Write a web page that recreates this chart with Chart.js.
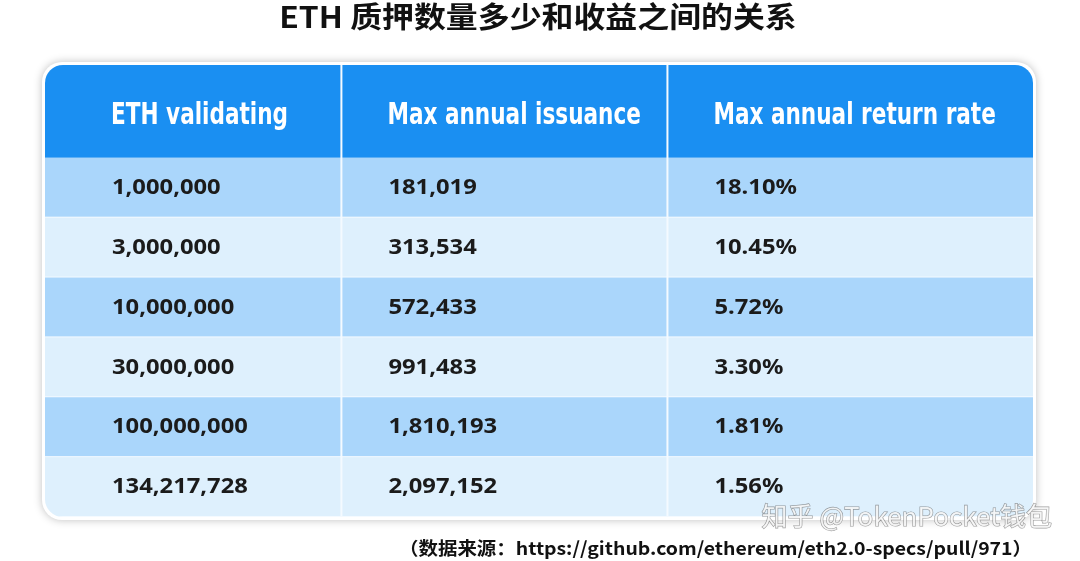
<!DOCTYPE html>
<html><head><meta charset="utf-8">
<script src="https://cdn.jsdelivr.net/npm/chart.js@4/dist/chart.umd.min.js"></script>
<style>
html,body{margin:0;background:#fff;}
#wrap{position:relative;width:1080px;height:561px;}
</style></head>
<body><div id="wrap"><canvas id="c" width="1080" height="561"></canvas></div>
<script>
const title = 'ETH 质押数量多少和收益之间的关系';
const headers = ['ETH validating', 'Max annual issuance', 'Max annual return rate'];
const validating = ['1,000,000', '3,000,000', '10,000,000', '30,000,000', '100,000,000', '134,217,728'];
const issuance = ['181,019', '313,534', '572,433', '991,483', '1,810,193', '2,097,152'];
const returnRate = ['18.10%', '10.45%', '5.72%', '3.30%', '1.81%', '1.56%'];
const source = '（数据来源：https://github.com/ethereum/eth2.0-specs/pull/971）';
const watermark = '知乎 @TokenPocket钱包';

// column edges in x units, header height in y units
const colEdges = [0, 0.9, 1.89, 3];
const headH = 1.55;

const cols = [validating, issuance, returnRate];

function rr(ctx, x, y, w, h, r) {
  ctx.beginPath();
  ctx.moveTo(x + r, y); ctx.arcTo(x + w, y, x + w, y + h, r);
  ctx.arcTo(x + w, y + h, x, y + h, r); ctx.arcTo(x, y + h, x, y, r);
  ctx.arcTo(x, y, x + w, y, r); ctx.closePath();
}

function wideText(ctx, s, px, py, sx) {
  ctx.save(); ctx.translate(px, py); ctx.scale(sx, 1); ctx.fillText(s, 0, 0); ctx.restore();
}

const tablePlugin = {
  id: 'table',
  beforeDatasetsDraw(chart) {
    const { ctx, scales: { x, y } } = chart;
    const L = x.getPixelForValue(0), R = x.getPixelForValue(3);
    const T = y.getPixelForValue(0), B = y.getPixelForValue(headH + validating.length);
    ctx.save();
    // title
    ctx.fillStyle = '#111';
    ctx.font = 'bold 29px "Noto Sans CJK SC", sans-serif';
    ctx.textAlign = 'center'; ctx.textBaseline = 'middle';
    wideText(ctx, title, 538, 17, 1.1);
    ctx.textAlign = 'left';
    // card
    ctx.shadowColor = 'rgba(0,0,0,0.25)'; ctx.shadowBlur = 8;
    rr(ctx, L - 3, T - 3, R - L + 6, B - T + 6, 20);
    ctx.fillStyle = '#fff'; ctx.fill();
    ctx.shadowBlur = 0;
    rr(ctx, L, T, R - L, B - T, 18); ctx.clip();
    // header
    ctx.fillStyle = '#1a8ff2';
    ctx.fillRect(L, T, R - L, y.getPixelForValue(headH) - T);
    validating.forEach((_, i) => {
      const y0 = y.getPixelForValue(headH + i), y1 = y.getPixelForValue(headH + i + 1);
      ctx.fillStyle = i % 2 === 0 ? '#aad6fb' : '#def0fd';
      ctx.fillRect(L, y0, R - L, y1 - y0);
      ctx.fillStyle = '#f4faff';
      ctx.fillRect(L, y1 - 1, R - L, 2);
    });
    // column dividers
    ctx.fillStyle = '#f4faff';
    [1, 2].forEach(k => { const px = x.getPixelForValue(colEdges[k]); ctx.fillRect(px - 1, T, 2, B - T); });
    // text
    headers.forEach((h, k) => {
      ctx.fillStyle = '#fff';
      ctx.font = 'bold 30px "DejaVu Sans Condensed", sans-serif';
      const px = x.getPixelForValue(colEdges[k]) + (k === 0 ? 66 : 46);
      wideText(ctx, h, px, y.getPixelForValue(headH / 2) + 5, 0.8);
    });
    ctx.fillStyle = '#1b1b1b';
    ctx.font = 'bold 22px "Noto Sans", sans-serif';
    cols.forEach((arr, k) => {
      const px = x.getPixelForValue(colEdges[k]) + (k === 0 ? 67 : 47);
      arr.forEach(v => {});
      arr.forEach((v, i) => wideText(ctx, v, px, y.getPixelForValue(headH + i + 0.5), 1.08));
    });
    ctx.restore();
    // watermark
    ctx.save();
    ctx.font = '26px "Noto Sans CJK SC", sans-serif';
    ctx.textAlign = 'right'; ctx.textBaseline = 'middle';
    ctx.fillStyle = 'rgba(250,250,250,0.85)';
    ctx.strokeStyle = 'rgba(90,90,90,0.6)'; ctx.lineWidth = 1.2;
    ctx.strokeText(watermark, 1052, 516);
    ctx.fillText(watermark, 1052, 516);
    ctx.fillStyle = '#111';
    ctx.font = 'bold 18px "Noto Sans CJK SC", sans-serif';
    wideText(ctx, source, 1032, 548, 1.08);
    ctx.restore();
  }
};

new Chart(document.getElementById('c'), {
  type: 'scatter',
  data: { datasets: [{ data: [], pointRadius: 0 }] },
  options: {
    responsive: false, animation: false,
    layout: { padding: { left: 45, right: 47, top: 65, bottom: 44 } },
    plugins: { legend: { display: false }, tooltip: { enabled: false } },
    scales: {
      x: { type: 'linear', min: 0, max: 3, display: false },
      y: { type: 'linear', min: 0, max: headH + validating.length, reverse: true, display: false }
    }
  },
  plugins: [tablePlugin]
});
</script></body></html>
